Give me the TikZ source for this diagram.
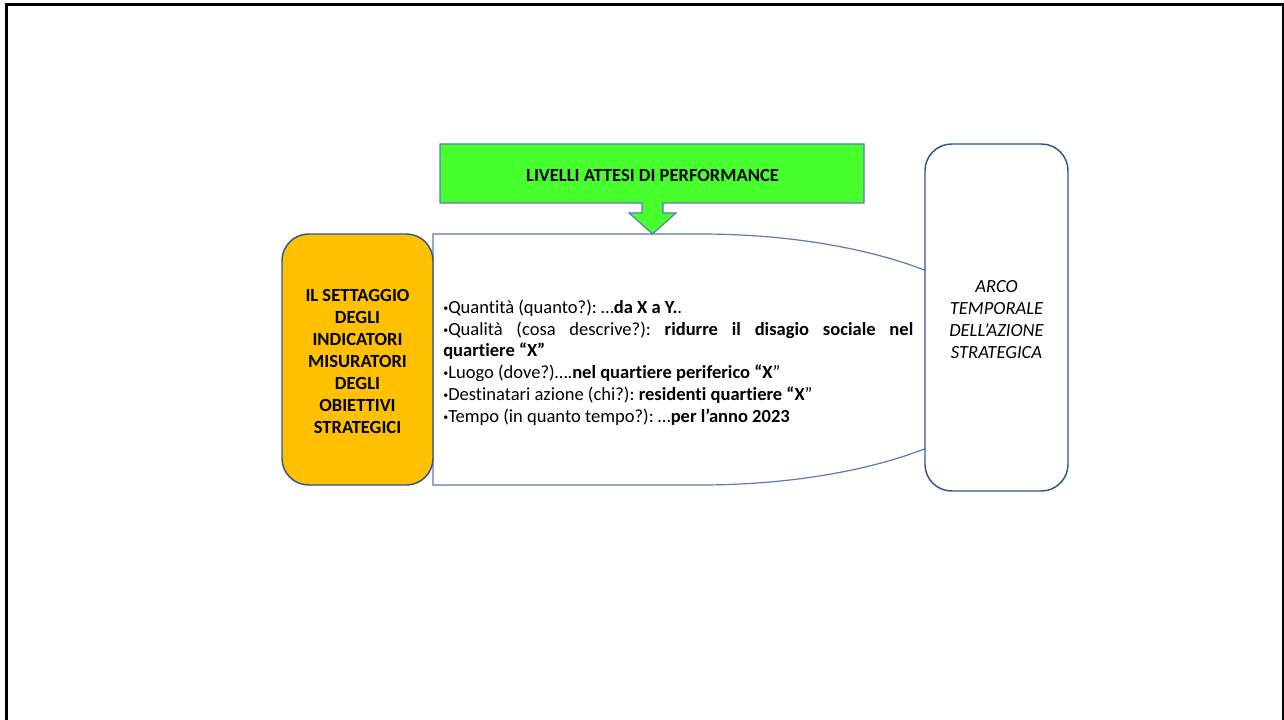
\documentclass[tikz,border=0pt]{standalone}
\usepackage{fontspec}
\setmainfont{Carlito}[Ligatures=NoCommon]
\definecolor{boxblue}{HTML}{2F5597}
\definecolor{softblue}{HTML}{5B7BB2}
\definecolor{brightgreen}{HTML}{46FF2C}
\definecolor{amber}{HTML}{FFC000}
\newcommand{\smallbullet}{\raisebox{1.6pt}{\fontsize{7.5}{7.5}\selectfont•}}
\tikzset{
  roundbox/.style={draw=boxblue, line width=1.1pt, rounded corners=20pt},
  plainbox/.style={draw=softblue, line width=0.9pt},
  label/.style={inner sep=0pt, font=\fontsize{13.9}{16.5}\selectfont},
}
\begin{document}
\begin{tikzpicture}[x=0.75pt, y=-0.75pt]
\useasboundingbox (0,0) rectangle (1284,720);

% outer frame of the slide
\draw[line width=2.25pt] (6,722) -- (6,5) -- (1283,5) -- (1283,722);

% D-shaped content panel (its right half disappears behind the time box)
\filldraw[plainbox, fill=white]
  (433,234) -- (700,234) arc[start angle=-90, end angle=90, x radius=320, y radius=125.5]
  -- (433,485) -- cycle;

% header callout pointing down
\filldraw[plainbox, fill=brightgreen, line join=miter]
  (440,144) -- (864,144) -- (864,203) -- (663,203) -- (663,213) -- (676,213)
  -- (652.5,234) -- (629,213) -- (642,213) -- (642,203) -- (440,203) -- cycle;
\node[label, font=\fontsize{13.9}{16.5}\selectfont\bfseries] (perf) at (652.5,175)
  {LIVELLI ATTESI DI PERFORMANCE};

% left rounded box
\filldraw[roundbox, fill=amber] (282,234) rectangle (433,485);
\node[label, align=center, font=\fontsize{13.9}{16.5}\selectfont\bfseries] (setting) at (357.5,361.5)
  {IL SETTAGGIO\\DEGLI\\INDICATORI\\MISURATORI\\DEGLI\\OBIETTIVI\\STRATEGICI};

% right rounded box
\filldraw[roundbox, fill=white] (925,144) rectangle (1068,491);
\node[label, align=center, font=\fontsize{13.9}{16.5}\selectfont\itshape] (arco) at (996.5,320)
  {ARCO\\TEMPORALE\\DELL’AZIONE\\STRATEGICA};

% list of indicator dimensions
\node[label, anchor=west] (items) at (443,363) {\parbox{352.5pt}{%
  \fontsize{13.9}{15.75}\selectfont\frenchspacing\setlength{\parskip}{0.75pt}%
  \smallbullet Quantità (quanto?): …\textbf{da X a Y.}.\par
  \smallbullet Qualità (cosa descrive?): \textbf{ridurre il disagio sociale nel}\linebreak\textbf{quartiere “X”}\par
  \smallbullet Luogo (dove?)….\textbf{nel quartiere periferico “X}”\par
  \smallbullet Destinatari azione (chi?): \textbf{residenti quartiere “X}”\par
  \smallbullet Tempo (in quanto tempo?): …\textbf{per l’anno 2023}}};
\end{tikzpicture}
\end{document}
